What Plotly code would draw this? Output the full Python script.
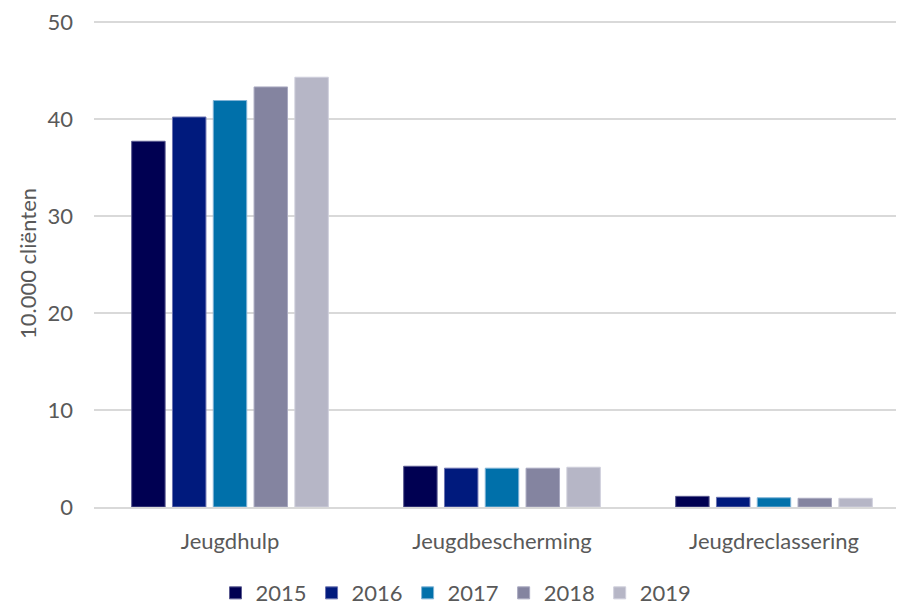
import plotly.graph_objects as go

categories = ["Jeugdhulp", "Jeugdbescherming", "Jeugdreclassering"]
years = ["2015", "2016", "2017", "2018", "2019"]
values = {
    "2015": [37.7, 4.2, 1.1],
    "2016": [40.2, 4.0, 1.0],
    "2017": [41.9, 4.0, 0.95],
    "2018": [43.3, 4.0, 0.9],
    "2019": [44.3, 4.1, 0.9],
}
colors = ["#000052", "#001A7D", "#0070AA", "#8484A0", "#B6B6C6"]
borders = ["#5a5a90", "#6a72b0", "#7fb3d6", "#a9a9c0", "#cfcfdc"]

fig = go.Figure()
for y, c, b in zip(years, colors, borders):
    fig.add_trace(go.Bar(
        x=categories, y=values[y], name=y,
        marker=dict(color=c, line=dict(color=b, width=1)),
    ))

font = "Lato, sans-serif"
fig.update_layout(
    width=896, height=597,
    margin=dict(l=86, r=0, t=12, b=98, autoexpand=False),
    paper_bgcolor="white", plot_bgcolor="white",
    barmode="group", bargap=0.25, bargroupgap=0.18,
    font=dict(family=font, size=22, color="#595959"),
    showlegend=True,
    legend=dict(orientation="h", x=0.5, xanchor="center", xref="container",
                y=0.02, yanchor="middle", yref="container",
                font=dict(size=22, color="#595959"), traceorder="normal"),
    yaxis=dict(range=[0, 50.2], tickvals=[0, 10, 20, 30, 40, 50], showgrid=True,
               gridcolor="#D9D9D9", gridwidth=1.5, ticklabeloverflow="allow",
               zeroline=False, showline=False, ticks="", ticklabelstandoff=20, automargin=False,
               title=dict(text="10.000 cliënten", font=dict(size=22, color="#595959"), standoff=4)),
    xaxis=dict(range=[-0.5, 2.478], showline=True, linecolor="#D9D9D9", linewidth=2, ticks="",
               ticklabelstandoff=14, automargin=False, tickfont=dict(size=22)),
)
fig.write_html("out.html")
